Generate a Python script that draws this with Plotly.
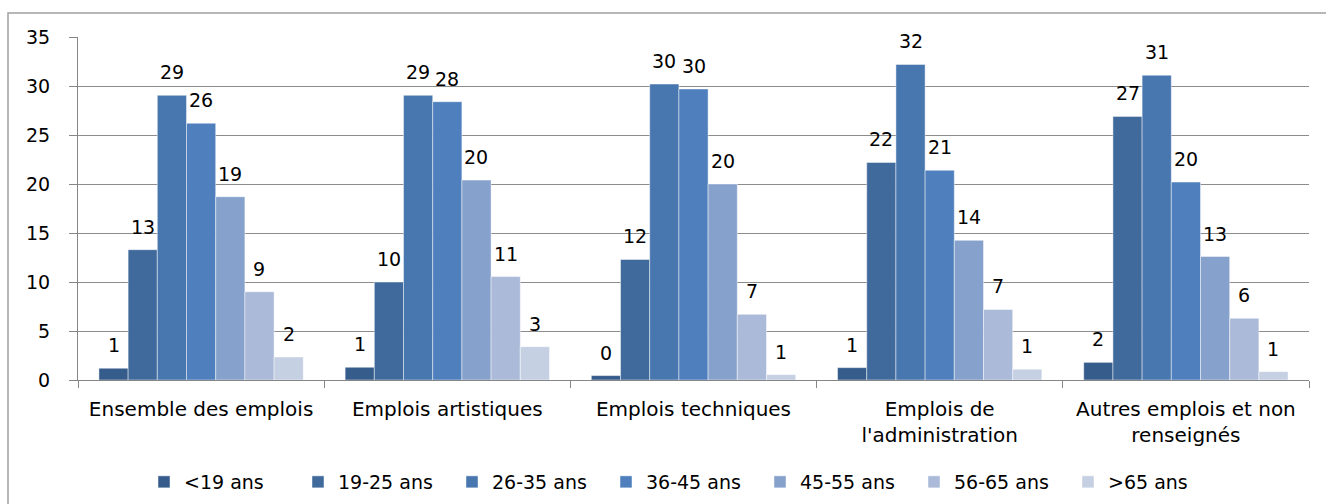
import plotly.graph_objects as go

categories = ["Ensemble des emplois", "Emplois artistiques", "Emplois techniques",
              "Emplois de<br>l'administration", "Autres emplois et non<br>renseignés"]
series_names = ["<19 ans", "19-25 ans", "26-35 ans", "36-45 ans", "45-55 ans", "56-65 ans", ">65 ans"]
v_lt19 = [1.2, 1.3, 0.45, 1.26, 1.8]
v_19_25 = [13.3, 10.0, 12.3, 22.2, 26.9]
v_26_35 = [29.05, 29.05, 30.2, 32.2, 31.1]
v_36_45 = [26.2, 28.4, 29.7, 21.4, 20.2]
v_45_55 = [18.7, 20.4, 20.0, 14.25, 12.6]
v_56_65 = [9.0, 10.55, 6.7, 7.2, 6.3]
v_gt65 = [2.35, 3.4, 0.55, 1.1, 0.85]
series_values = [v_lt19, v_19_25, v_26_35, v_36_45, v_45_55, v_56_65, v_gt65]
colors = ["#355C8A", "#416A9C", "#4876AE", "#4F80BD", "#86A1CB", "#ABBAD8", "#C6D0E3"]

BARGAP = 0.17
FONT = "DejaVu Sans"
L, R, T, B = 78, 17, 37, 124
PW, PH = 1326 - L - R, 504 - T - B

fig = go.Figure()
for name, vals, col in zip(series_names, series_values, colors):
    fig.add_trace(go.Bar(
        name=name, x=categories, y=vals,
        marker=dict(color=col, line=dict(color="rgba(255,255,255,0.45)", width=1)),
    ))

annotations = []
n = len(series_names)
w = (1 - BARGAP) / n
for j, vals in enumerate(series_values):
    for i, v in enumerate(vals):
        annotations.append(dict(
            x=i - (1 - BARGAP) / 2 + (j + 0.5) * w, y=v, xref="x", yref="y",
            text=f"{v:.0f}", showarrow=False, yanchor="bottom", yshift=10,
            font=dict(family=FONT, size=19, color="#000000"),
        ))

fig.update_layout(
    width=1326, height=504,
    barmode="group", bargap=BARGAP, bargroupgap=0,
    plot_bgcolor="white", paper_bgcolor="white",
    margin=dict(l=L, r=R, t=T, b=B, autoexpand=False),
    font=dict(family=FONT, size=19, color="#000000"),
    annotations=annotations,
    showlegend=True,
    legend=dict(orientation="h", x=(144 - L) / PW, xanchor="left",
                y=(380 - 482) / PH, yanchor="middle",
                font=dict(family=FONT, size=19),
                entrywidth=109, entrywidthmode="pixels",
                traceorder="normal"),
    shapes=[dict(type="rect", xref="paper", yref="paper",
                 x0=(8 - L) / PW, x1=(1340 - L) / PW,
                 y0=(380 - 520) / PH, y1=(380 - 13) / PH,
                 line=dict(color="#A0A0A0", width=1.5))],
)
fig.update_xaxes(
    showline=True, linecolor="#868686", linewidth=1,
    ticks="outside", tickson="boundaries", ticklen=7, tickcolor="#868686",
    tickfont=dict(family=FONT, size=20), showgrid=False, ticklabelstandoff=11,
)
fig.update_yaxes(
    range=[0, 35], dtick=5, showline=True, linecolor="#868686", linewidth=1,
    ticks="outside", ticklen=8, tickcolor="#868686",
    gridcolor="#8C8C8C", gridwidth=1, zeroline=False,
    tickfont=dict(family=FONT, size=19), ticklabelstandoff=15,
)

fig.write_html("out.html", config={"displayModeBar": False},
               post_script="document.body.style.margin='0';")
